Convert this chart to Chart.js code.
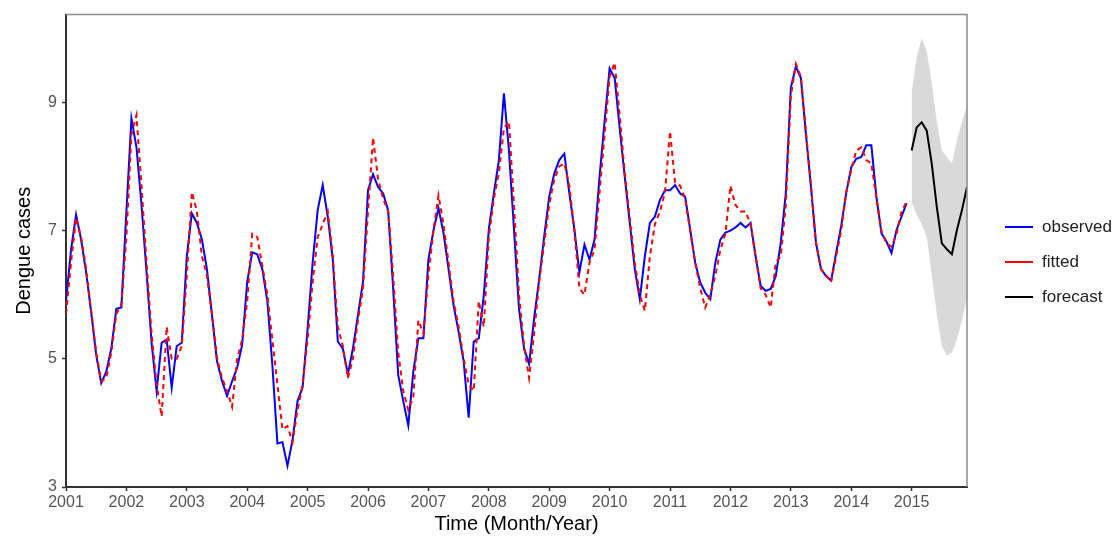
<!DOCTYPE html>
<html>
<head>
<meta charset="utf-8">
<title>Dengue cases</title>
<script src="https://cdn.jsdelivr.net/npm/chart.js@4.4.1/dist/chart.umd.min.js"></script>
<style>
  html, body { margin: 0; padding: 0; background: #fff; }
  #wrap { width: 1120px; height: 547px; position: relative; }
</style>
</head>
<body>
<div id="wrap"><canvas id="dengue-chart"></canvas></div>
<script>
// Serie mensual, enero 2001 - diciembre 2014
const startYear = 2001;
const yearTicks = [2001, 2002, 2003, 2004, 2005, 2006, 2007, 2008, 2009, 2010, 2011, 2012, 2013, 2014, 2015];
const valueTicks = [3, 5, 7, 9];

const observed = [
  5.9, 6.7, 7.25, 6.86, 6.35, 5.73, 5.06, 4.62, 4.8, 5.16, 5.78, 5.8,
  7.3, 8.75, 8.3, 7.4, 6.35, 5.25, 4.5, 5.25, 5.3, 4.55, 5.2, 5.25,
  6.6, 7.27, 7.12, 6.86, 6.4, 5.68, 4.96, 4.65, 4.42, 4.65, 4.86, 5.22,
  6.2, 6.66, 6.63, 6.4, 5.9, 4.9, 3.68, 3.7, 3.33, 3.73, 4.34, 4.55,
  5.47, 6.5, 7.32, 7.71, 7.22, 6.55, 5.27, 5.16, 4.76, 5.16, 5.68, 6.2,
  7.63, 7.88, 7.68, 7.58, 7.32, 6.09, 4.75, 4.34, 3.96, 4.8, 5.32, 5.32,
  6.55, 7.0, 7.35, 6.96, 6.4, 5.83, 5.42, 4.96, 4.08, 5.27, 5.32, 5.99,
  7.02, 7.58, 8.1, 9.14, 8.25, 7.02, 5.78, 5.16, 4.92, 5.63, 6.24, 6.91,
  7.53, 7.89, 8.1, 8.2, 7.58, 7.02, 6.35, 6.78, 6.55, 6.86, 7.84, 8.71,
  9.53, 9.38, 8.6, 7.84, 7.12, 6.4, 5.93, 6.6, 7.12, 7.22, 7.48, 7.63,
  7.63, 7.71, 7.58, 7.53, 7.02, 6.5, 6.19, 6.03, 5.93, 6.5, 6.86, 6.97,
  7.0, 7.05, 7.12, 7.05, 7.12, 6.6, 6.14, 6.06, 6.09, 6.29, 6.81, 7.58,
  9.23, 9.56, 9.38, 8.5, 7.68, 6.81, 6.4, 6.29, 6.22, 6.65, 7.07, 7.58,
  7.99, 8.12, 8.15, 8.33, 8.33, 7.53, 6.96, 6.83, 6.65, 7.01, 7.22, 7.43
];

const fitted = [
  5.7, 6.5, 7.2, 6.9, 6.4, 5.75, 5.1, 4.65, 4.7, 5.1, 5.7, 5.85,
  6.9, 8.5, 8.8, 7.7, 6.5, 5.4, 4.6, 4.1, 5.5, 5.0, 5.0, 5.2,
  6.3, 7.6, 7.3, 6.6, 6.3, 5.7, 5.0, 4.7, 4.5, 4.25, 5.0, 5.3,
  5.9, 6.95, 6.9, 6.45, 6.0, 5.3, 4.6, 3.9, 3.95, 3.7, 4.2, 4.6,
  5.3, 6.2, 6.9, 7.1, 7.3, 6.6, 5.5, 5.2, 4.7, 5.0, 5.6, 6.1,
  7.3, 8.45, 7.8, 7.5, 7.3, 6.3, 5.1, 4.5, 4.2, 4.4, 5.6, 5.4,
  6.3, 7.0, 7.55, 7.1, 6.5, 5.9, 5.5, 5.0, 4.6, 4.5, 5.9, 5.5,
  6.9, 7.5, 7.9, 8.6, 8.7, 7.4, 6.0, 5.2, 4.7, 5.4, 6.2, 6.8,
  7.4, 7.8, 8.0, 8.05, 7.7, 7.0, 6.1, 6.0, 6.5, 6.7, 7.6, 8.5,
  9.4, 9.62, 8.8, 7.9, 7.2, 6.5, 6.0, 5.75, 6.6, 7.1, 7.3, 7.6,
  8.55, 7.75, 7.7, 7.5, 7.0, 6.5, 6.1, 5.8, 6.0, 6.3, 6.7, 6.95,
  7.7, 7.4, 7.3, 7.3, 7.1, 6.6, 6.1, 6.0, 5.8, 6.5, 6.6, 7.4,
  9.1, 9.6, 9.4, 8.55, 7.7, 6.8, 6.4, 6.3, 6.2, 6.6, 7.0, 7.6,
  7.95, 8.25, 8.3, 8.1, 8.05, 7.5, 7.0, 6.8, 6.75, 6.95, 7.3, 7.45
];

// Pronóstico enero - diciembre 2015 con su intervalo
const forecast = [8.25, 8.61, 8.69, 8.56, 8.04, 7.37, 6.8, 6.71, 6.63, 7.01, 7.32, 7.68];
const forecastUpper = [9.15, 9.7, 10.0, 9.8, 9.3, 8.7, 8.25, 8.15, 8.05, 8.4, 8.7, 8.95];
const forecastLower = [7.45, 7.25, 7.1, 6.9, 6.3, 5.7, 5.2, 5.05, 5.1, 5.3, 5.6, 5.95];

function toPoints(values, offset) {
  return values.map((v, i) => ({ x: startYear + (i + offset) / 12, y: v }));
}

const forecastStart = observed.length;

// Borde del panel (arriba y derecha en gris)
const panelBorder = {
  id: 'panelBorder',
  afterDraw(chart) {
    const { ctx, chartArea } = chart;
    ctx.save();
    ctx.strokeStyle = '#8a8a8a';
    ctx.lineWidth = 1.5;
    ctx.beginPath();
    ctx.moveTo(chartArea.left, chartArea.top);
    ctx.lineTo(chartArea.right, chartArea.top);
    ctx.lineTo(chartArea.right, chartArea.bottom);
    ctx.stroke();
    ctx.restore();
  }
};

// Leyenda a la derecha
const sideLegend = {
  id: 'sideLegend',
  afterDraw(chart) {
    const { ctx } = chart;
    const items = chart.data.datasets.filter(ds => ds.legendRank !== undefined)
      .sort((a, b) => a.legendRank - b.legendRank);
    ctx.save();
    ctx.font = '17px "Liberation Sans", Arial, sans-serif';
    ctx.textBaseline = 'middle';
    items.forEach((ds, i) => {
      const y = 227 + i * 35;
      ctx.strokeStyle = ds.borderColor;
      ctx.lineWidth = 2;
      ctx.beginPath();
      ctx.moveTo(1005, y);
      ctx.lineTo(1033, y);
      ctx.stroke();
      ctx.fillStyle = '#222';
      ctx.fillText(ds.label, 1042, y);
    });
    ctx.restore();
  }
};

const tickFont = { family: '"Liberation Sans", Arial, sans-serif', size: 16 };
const titleFont = { family: '"Liberation Sans", Arial, sans-serif', size: 20 };

new Chart(document.getElementById('dengue-chart'), {
  type: 'line',
  data: {
    datasets: [
      {
        label: 'fitted',
        legendRank: 1,
        data: toPoints(fitted, 0),
        borderColor: '#ff0000',
        borderWidth: 2,
        borderDash: [5, 4],
        pointRadius: 0,
        tension: 0,
        fill: false
      },
      {
        label: 'observed',
        legendRank: 0,
        data: toPoints(observed, 0),
        borderColor: '#0000ff',
        borderWidth: 2,
        pointRadius: 0,
        tension: 0,
        fill: false
      },
      {
        label: 'forecast',
        legendRank: 2,
        data: toPoints(forecast, forecastStart),
        borderColor: '#000000',
        borderWidth: 2,
        pointRadius: 0,
        tension: 0,
        fill: false
      },
      {
        label: 'upper',
        data: toPoints(forecastUpper, forecastStart),
        borderWidth: 0,
        borderColor: 'rgba(0,0,0,0)',
        backgroundColor: '#d9d9d9',
        pointRadius: 0,
        tension: 0,
        fill: '+1'
      },
      {
        label: 'lower',
        data: toPoints(forecastLower, forecastStart),
        borderWidth: 0,
        borderColor: 'rgba(0,0,0,0)',
        pointRadius: 0,
        tension: 0,
        fill: false
      }
    ]
  },
  options: {
    responsive: true,
    maintainAspectRatio: false,
    animation: false,
    layout: { padding: { top: 10, right: 153, left: 0, bottom: 0 } },
    plugins: {
      legend: { display: false },
      tooltip: { enabled: false }
    },
    scales: {
      x: {
        type: 'linear',
        min: 2001,
        max: 2001 + 179 / 12,
        afterFit: scale => { scale.height = 60; },
        afterBuildTicks: scale => { scale.ticks = yearTicks.map(v => ({ value: v })); },
        ticks: {
          font: tickFont,
          color: '#555',
          padding: 2,
          maxRotation: 0,
          autoSkip: false,
          callback: v => String(v)
        },
        grid: {
          drawOnChartArea: false,
          drawTicks: true,
          tickLength: 4,
          tickColor: '#333',
          tickWidth: 1.5
        },
        border: { display: true, color: '#333', width: 2 },
        title: {
          display: true,
          text: 'Time (Month/Year)',
          font: titleFont,
          color: '#000',
          padding: { bottom: 11 }
        }
      },
      y: {
        min: 3,
        max: 10.37,
        afterFit: scale => { scale.width = 66; },
        afterBuildTicks: scale => { scale.ticks = valueTicks.map(v => ({ value: v })); },
        ticks: {
          font: tickFont,
          color: '#555',
          padding: 5,
          callback: v => String(v)
        },
        grid: {
          drawOnChartArea: false,
          drawTicks: true,
          tickLength: 4,
          tickColor: '#333',
          tickWidth: 1.5
        },
        border: { display: true, color: '#333', width: 2 },
        title: {
          display: true,
          text: 'Dengue cases',
          font: titleFont,
          color: '#000',
          padding: { top: 12 }
        }
      }
    }
  },
  plugins: [panelBorder, sideLegend]
});
</script>
</body>
</html>
